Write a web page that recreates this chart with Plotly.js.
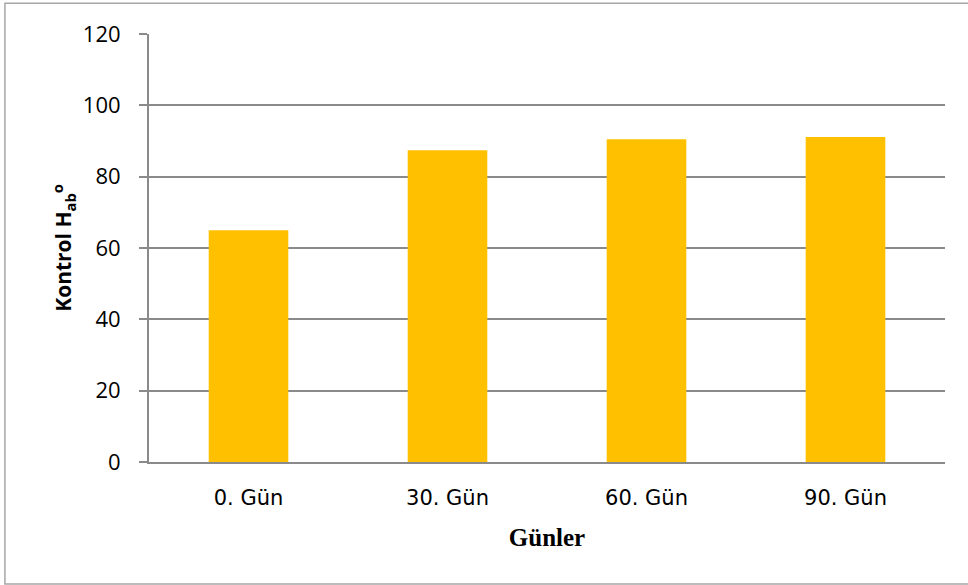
<!DOCTYPE html>
<html>
<head>
<meta charset="utf-8">
<script src="https://cdn.plot.ly/plotly-3.0.1.min.js"></script>
<style>
  html, body { margin: 0; padding: 0; background: #ffffff; }
  #chart { width: 968px; height: 585px; }
</style>
</head>
<body>
<div id="chart"></div>
<script>
// Storage days and the measured control hue angle (H°ab)
const days = ["0. Gün", "30. Gün", "60. Gün", "90. Gün"];
const hueValues = [65.0, 87.4, 90.5, 91.1];
const yTicks = [0, 20, 40, 60, 80, 100, 120];

const gridGray = "#8a8a8a";

const trace = {
  type: "bar",
  x: days,
  y: hueValues,
  marker: { color: "#FFC000", line: { width: 0 } },
  hoverinfo: "x+y"
};

const layout = {
  width: 968,
  height: 585,
  margin: { l: 149, r: 23, t: 34, b: 123 },
  paper_bgcolor: "#ffffff",
  plot_bgcolor: "#ffffff",
  bargap: 0.6,
  showlegend: false,
  xaxis: {
    type: "category",
    showgrid: false,
    showline: true,
    linecolor: gridGray,
    linewidth: 2,
    ticks: "outside",
    ticklen: 16,
    tickcolor: "rgba(0,0,0,0)",
    tickfont: { family: "DejaVu Sans", size: 21, color: "#000000" },
    title: {
      text: "Günler",
      font: { family: "Liberation Serif", size: 25, color: "#000000", weight: "bold" },
      standoff: 19
    }
  },
  yaxis: {
    range: [0, 120],
    tickvals: yTicks,
    ticktext: yTicks.map(String),
    showgrid: true,
    gridcolor: gridGray,
    gridwidth: 2,
    zeroline: false,
    showline: true,
    linecolor: gridGray,
    linewidth: 2,
    ticks: "outside",
    ticklen: 8,
    tickwidth: 2,
    tickcolor: gridGray,
    ticklabelstandoff: 14,
    tickfont: { family: "Open Sans", size: 22, color: "#000000" },
    title: {
      text: "Kontrol H<sub>ab</sub><sup>o</sup>",
      font: { family: "Open Sans", size: 21, color: "#000000", weight: "bold" },
      standoff: 5
    }
  },
  shapes: [
    {
      type: "rect",
      xref: "paper", yref: "paper",
      x0: -0.181, x1: 1.06, y0: -0.285, y1: 1.072,
      line: { color: "#a6a6a6", width: 1.5 },
      fillcolor: "rgba(0,0,0,0)",
      layer: "below"
    }
  ]
};

Plotly.newPlot("chart", [trace], layout, { displayModeBar: false, staticPlot: true });
</script>
</body>
</html>
